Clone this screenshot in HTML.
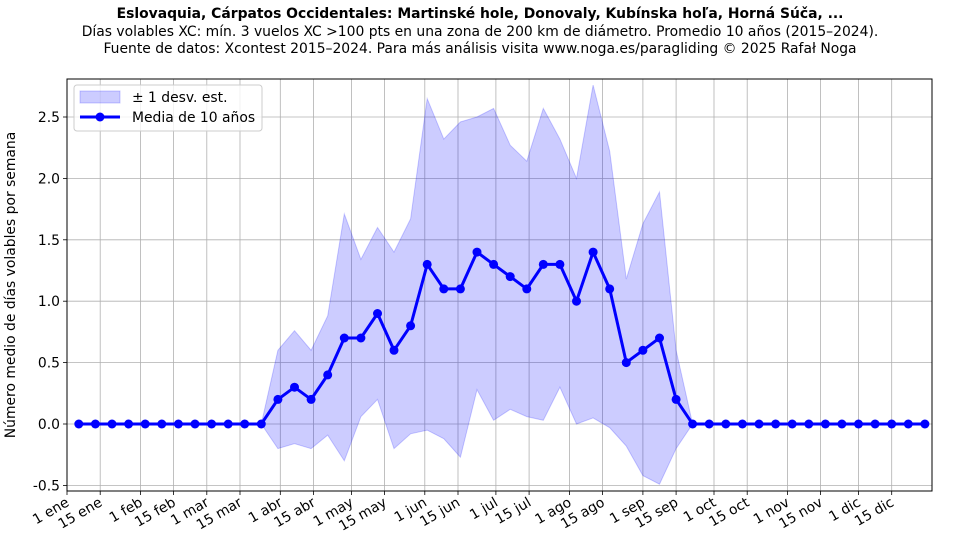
<!DOCTYPE html>
<html><head><meta charset="utf-8"><style>
body{margin:0;background:#fff;}
svg{font-family:"DejaVu Sans","Liberation Sans",sans-serif;}
</style></head><body>
<svg id="s" width="960" height="540" xmlns="http://www.w3.org/2000/svg">
<text x="480" y="18" text-anchor="middle" font-size="13.9" font-weight="bold">Eslovaquia, Cárpatos Occidentales: Martinské hole, Donovaly, Kubínska hoľa, Horná Súča, ...</text>
<text x="480" y="36" text-anchor="middle" font-size="13.9">Días volables XC: mín. 3 vuelos XC &gt;100 pts en una zona de 200 km de diámetro. Promedio 10 años (2015–2024).</text>
<text x="480" y="53" text-anchor="middle" font-size="13.9">Fuente de datos: Xcontest 2015–2024. Para más análisis visita www.noga.es/paragliding © 2025 Rafał Noga</text>
<text transform="translate(15,285) rotate(-90)" text-anchor="middle" font-size="13.9">Número medio de días volables por semana</text>
<g id="g"></g>
</svg>
<script>
const L=67,R=932,T=79,B=491;
const X=d=>L+d*(R-L)/365, Y=v=>424-v*122.8;
const mean=[0,0,0,0,0,0,0,0,0,0,0,0,0.2,0.3,0.2,0.4,0.7,0.7,0.9,0.6,0.8,1.3,1.1,1.1,1.4,1.3,1.2,1.1,1.3,1.3,1.0,1.4,1.1,0.5,0.6,0.7,0.2];
const up=[0,0,0,0,0,0,0,0,0,0,0,0,0.6,0.76,0.6,0.88,1.71,1.34,1.6,1.4,1.67,2.65,2.32,2.46,2.5,2.57,2.27,2.14,2.57,2.32,2.0,2.76,2.22,1.18,1.63,1.89,0.6];
const lo=[0,0,0,0,0,0,0,0,0,0,0,0,-0.2,-0.16,-0.2,-0.09,-0.3,0.06,0.2,-0.2,-0.08,-0.05,-0.12,-0.27,0.28,0.03,0.12,0.06,0.03,0.3,0.0,0.05,-0.03,-0.18,-0.42,-0.49,-0.2];
while(mean.length<52){mean.push(0);up.push(0);lo.push(0);}
const px=i=>X(5+7*i);
let h='';
const ticks=[[0,'1 ene'],[14,'15 ene'],[31,'1 feb'],[45,'15 feb'],[59,'1 mar'],[73,'15 mar'],[90,'1 abr'],[104,'15 abr'],[120,'1 may'],[134,'15 may'],[151,'1 jun'],[165,'15 jun'],[181,'1 jul'],[195,'15 jul'],[212,'1 ago'],[226,'15 ago'],[243,'1 sep'],[257,'15 sep'],[273,'1 oct'],[287,'15 oct'],[304,'1 nov'],[318,'15 nov'],[334,'1 dic'],[348,'15 dic']];
for(const [d,t] of ticks){const x=X(d).toFixed(1);
h+=`<line x1="${x}" x2="${x}" y1="${T}" y2="${B}" stroke="#b0b0b0" stroke-width="0.8"/>`;
h+=`<line x1="${x}" x2="${x}" y1="${B}" y2="${B+4}" stroke="#000" stroke-width="0.8"/>`;
h+=`<text transform="translate(${+x+3},${B+14}) rotate(-30)" text-anchor="end" font-size="13.9">${t}</text>`;}
for(let k=-1;k<=5;k++){const v=k*0.5,y=Y(v).toFixed(1);
h+=`<line x1="${L}" x2="${R}" y1="${y}" y2="${y}" stroke="#b0b0b0" stroke-width="0.8"/>`;
h+=`<line x1="${L-4}" x2="${L}" y1="${y}" y2="${y}" stroke="#000" stroke-width="0.8"/>`;
h+=`<text x="${L-7}" y="${+y+5}" text-anchor="end" font-size="13.9">${v.toFixed(1)}</text>`;}
let p='';for(let i=0;i<52;i++)p+=`${px(i).toFixed(1)},${Y(up[i]).toFixed(1)} `;
for(let i=51;i>=0;i--)p+=`${px(i).toFixed(1)},${Y(lo[i]).toFixed(1)} `;
h+=`<polygon points="${p}" fill="#0000ff" fill-opacity="0.2" stroke="#0000ff" stroke-opacity="0.2"/>`;
let m='';for(let i=0;i<52;i++)m+=`${px(i).toFixed(1)},${Y(mean[i]).toFixed(1)} `;
h+=`<polyline points="${m}" fill="none" stroke="#0000ff" stroke-width="3"/>`;
for(let i=0;i<52;i++)h+=`<circle cx="${px(i).toFixed(1)}" cy="${Y(mean[i]).toFixed(1)}" r="4.5" fill="#0000ff"/>`;
h+=`<rect x="${L}" y="${T}" width="${R-L}" height="${B-T}" fill="none" stroke="#000" stroke-width="1"/>`;
h+=`<rect x="74" y="85" width="188" height="46" rx="3" fill="#fff" fill-opacity="0.8" stroke="#ccc"/>`;
h+=`<rect x="80" y="91" width="40" height="12" fill="#0000ff" fill-opacity="0.2" stroke="#0000ff" stroke-opacity="0.2"/>`;
h+=`<text x="132" y="102" font-size="13.9">± 1 desv. est.</text>`;
h+=`<line x1="80" x2="120" y1="117" y2="117" stroke="#0000ff" stroke-width="3"/><circle cx="100" cy="117" r="4.5" fill="#0000ff"/>`;
h+=`<text x="132" y="122" font-size="13.9">Media de 10 años</text>`;
document.getElementById('g').innerHTML=h;
</script>
</body></html>
